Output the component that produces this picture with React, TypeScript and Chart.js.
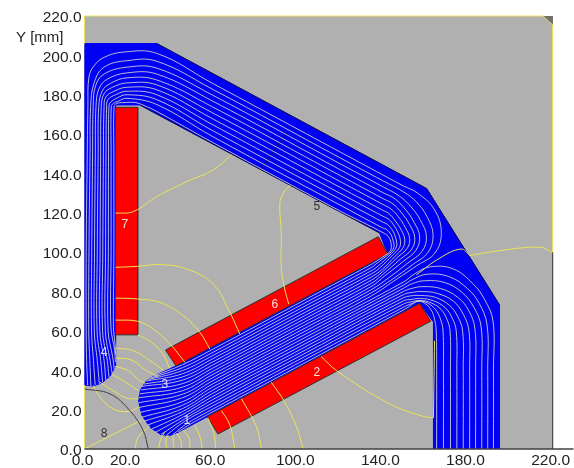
import React, { useEffect, useRef } from "react";
import { Chart, registerables } from "chart.js";

Chart.register(...registerables);

type P = [number, number];

const xTicks = [0, 20, 60, 100, 140, 180, 220];
const yTicks = [0, 20, 40, 60, 80, 100, 120, 140, 160, 180, 200, 220];
const yTitle = "Y [mm]";

const plotArea: P[] = [[0, 0], [220, 0], [220, 220], [0, 220], [0, 0]];
const cornerMark: P[] = [[215.5, 220], [220, 220], [220, 215.5], [215.5, 220]];
const ironShape: P[] = [
  [0, 206], [34, 206], [160.8, 132.3], [195, 73.3], [195, 0], [164, 0], [164, 64.5], [157.5, 74],
  [57.7, 16.4], [44, 8.5], [40, 6.8], [36, 7.3], [31, 10.8], [27, 17], [25.4, 24.5], [26.3, 30], [29, 34.5], [32.5, 37],
  [43, 42.2], [142.5, 99.1], [138.7, 109.8], [26, 174.8], [14.6, 174.8], [14.6, 42], [12, 37], [8, 33.5], [4, 32], [0, 32.5], [0, 206],
];
const outerEdge: P[] = [[34, 206], [160.8, 132.3], [195, 73.3]];
const innerEdge: P[] = [[138.7, 109.8], [26, 174.8]];
const coil2: P[] = [[157.5, 74], [162.7, 64.9], [62.7, 7.6], [57.7, 16.4], [157.5, 74]];
const coil6: P[] = [[38.1, 50.3], [43, 42.2], [142.5, 99.1], [138.1, 107.9], [38.1, 50.3]];
const coil7: P[] = [[14.6, 173.6], [25, 173.6], [25, 58], [14.6, 58], [14.6, 173.6]];

const yokeLines: P[][] = [
  [[1.5, 32.3], [1, 45], [0.8, 60], [0.8, 100], [1.3, 150], [1.6, 174], [2.1, 189], [4.5, 194.7], [9.2, 199], [18.5, 201.7], [34, 201], [60, 185.9], [120, 151], [140, 139.4], [150, 133.6], [156.6, 130], [164.6, 121.4], [167.7, 109.6], [164.6, 99.4], [156.7, 93.5], [147, 86.5]],
  [[3, 32], [2.5, 45], [2, 60], [2.1, 100], [2.6, 150], [2.9, 174], [4.5, 186], [9.2, 194], [20, 197.3], [34, 197], [60, 182.9], [120, 148], [140, 136.4], [150, 130.6], [156, 125.5], [161, 118], [163.8, 109], [161.5, 100], [154, 93.5], [145, 86.5]],
  [[5, 32.5], [4.2, 45], [3.3, 60], [3.4, 100], [3.8, 150], [4.1, 174], [5.2, 184.5], [9.2, 190.5], [20, 194], [34, 193.5], [60, 179.9], [120, 145], [140, 133.4], [148, 128.5], [153.5, 123], [158, 116], [160.7, 108], [158.7, 100.5], [152, 94.5], [143, 87]],
  [[7, 33], [6, 45], [4.6, 60], [4.7, 100], [5.1, 150], [5.4, 174], [6.8, 183], [10.7, 187.9], [20, 191.1], [34, 190.5], [60, 176.9], [120, 142], [140, 130.4], [146, 127], [151, 121.5], [155, 115], [157.5, 108], [155.8, 101], [150, 95.5], [141, 87.8]],
  [[8.5, 34], [7.6, 45], [5.9, 60], [6, 100], [6.4, 150], [6.7, 174], [8.4, 182], [12.3, 185.8], [20, 188.6], [34, 187.5], [60, 173.9], [120, 139], [140, 127.4], [145, 124.5], [149, 120], [152.8, 114], [155.2, 107.5], [153.8, 101.5], [148.5, 96.5], [140, 88.5]],
  [[10, 35], [9.2, 45], [7.2, 60], [7.3, 100], [7.6, 150], [7.9, 174], [9.2, 180.5], [13, 183.7], [20, 186], [34, 185], [60, 170.9], [120, 136], [140, 124.4], [144, 122], [147.5, 118], [150.8, 112.5], [152.8, 107], [151.7, 102], [147, 97.3], [140, 90]],
  [[11.5, 36.5], [10.7, 45], [8.5, 60], [8.6, 100], [8.9, 150], [9.2, 174], [10, 178.8], [13.8, 181.7], [20, 183.8], [34, 182.5], [60, 167.9], [120, 133], [140, 121.4], [143, 119.7], [146, 116], [149, 111], [150.5, 106.5], [149.7, 102.3], [146, 98], [140, 91.3]],
  [[13, 38.5], [12, 45], [9.8, 60], [9.9, 100], [10.1, 150], [10.4, 174], [11, 177.5], [14.6, 180], [20, 181.8], [34, 180], [60, 164.9], [120, 130], [140, 118.4], [143, 116.7], [145.5, 113.5], [147.5, 109.5], [148.5, 105.5], [148, 102.3], [145, 98.7], [139, 92.2]],
  [[14, 40.5], [13.2, 47], [11.1, 60], [11.2, 100], [11.3, 150], [11.5, 174], [12.3, 176.2], [15.4, 178.4], [20, 180], [34, 177.5], [60, 161.9], [120, 127], [140, 115.4], [142.5, 114], [144.8, 111], [146, 108], [146.8, 104.5], [146.3, 102], [144, 99], [138, 93]],
  [[14.5, 44], [14.2, 50], [12.4, 62], [12.5, 100], [12.5, 150], [12.6, 174], [13.5, 175.5], [16, 176.8], [20, 178.2], [34, 175], [60, 158.9], [120, 124], [140, 112.4], [142, 111.5], [144, 109], [145, 106], [145.5, 103.5], [145, 101.5], [143.5, 99.5], [137, 94]],
  [[14.6, 48], [14.3, 54], [13.6, 62], [13.8, 100], [13.8, 150], [13.9, 174], [15, 175.5], [18, 176], [24, 176], [28, 174.5], [34, 171.5], [60, 155.9], [120, 121], [141, 109.5], [143, 107.5], [144, 105], [144.2, 102.5], [143.8, 100.8], [142.5, 99.3], [136, 94.6]],
];

const legLines: P[][] = [
  [[165.5, 0], [165.5, 40], [165.3, 60], [164.5, 66], [163, 70.5], [160, 74], [156.5, 75], [153, 72.7]],
  [[168.7, 0], [168.7, 40], [168.5, 60], [167.3, 66], [165, 70.8], [161.5, 74], [157.5, 75.2], [153.5, 73.8]],
  [[172, 0], [172, 40], [171.8, 60], [170.3, 66], [167.5, 71], [163, 74.2], [158, 75.5], [153.5, 74.8]],
  [[175, 0], [175, 40], [174.7, 60], [172.8, 66.5], [169.5, 71.8], [164, 75.3], [158, 76.5], [153.5, 76]],
  [[178, 0], [178, 40], [177.7, 60], [175.3, 67.5], [171.5, 73], [165, 77], [158, 78], [153.5, 77.8]],
  [[181, 0], [181, 40], [180.7, 60], [178, 68.5], [173.5, 75], [166, 79], [158.5, 80], [153.5, 79.5]],
  [[183.8, 0], [183.8, 40], [183.5, 61], [180.5, 70.5], [175.5, 77], [167.5, 81.5], [159, 82.5], [153.5, 81.5]],
  [[186.7, 0], [186.7, 40], [186.4, 62], [183, 72], [177.5, 79.5], [169.5, 84.5], [160, 85.5], [154, 84]],
  [[189.5, 0], [189.5, 40], [189.2, 63], [185.5, 74], [180, 81.5], [171.5, 87.5], [161, 88.8], [154, 86]],
  [[192.2, 0], [192.2, 40], [192, 65], [188, 76], [182.7, 83.8], [173.3, 91.5], [162.2, 92.5], [155.2, 89]],
];

const poleLines: P[][] = [
  [[150, 70.7], [105, 44.6], [60, 18.7], [50, 12.8], [44, 8.7]],
  [[150, 72.1], [105, 46.2], [60, 20.1], [48, 12.8], [41.5, 7.3]],
  [[150, 73.7], [105, 47.8], [60, 21.7], [47, 14], [38.5, 7]],
  [[150, 75.3], [105, 49.4], [60, 23.3], [47, 15.2], [36, 7.4]],
  [[150, 76.9], [105, 51], [60, 24.9], [46, 16], [33.5, 8.6]],
  [[150, 78.5], [105, 52.6], [60, 26.5], [46, 17.5], [31.5, 10.1]],
  [[150, 80.1], [105, 54.2], [60, 28.1], [46, 19], [29.5, 12.1]],
  [[150, 81.7], [105, 55.8], [60, 29.7], [46, 20.5], [28, 14.1]],
  [[150, 83.3], [105, 57.4], [60, 31.3], [46, 22.2], [26.8, 16.1]],
  [[150, 84.9], [105, 59], [60, 32.9], [46, 24], [26.2, 18.6]],
  [[135, 77.9], [105, 60.6], [60, 34.5], [46, 26], [25.7, 21.1]],
  [[135, 79.5], [105, 62.2], [60, 36.1], [46, 27.8], [25.4, 23.5]],
  [[135, 81.1], [105, 63.8], [60, 37.7], [46, 29.6], [25.5, 26]],
  [[135, 82.7], [105, 65.4], [60, 39.3], [46, 31.4], [25.9, 28]],
  [[135, 84.3], [105, 67], [60, 40.9], [46, 33.2], [26.5, 30]],
  [[135, 85.9], [105, 68.6], [60, 42.5], [46, 35], [27, 31.8]],
  [[135, 87.5], [105, 70.2], [60, 44.1], [46, 36.6], [28, 33]],
  [[135, 89.1], [105, 71.8], [60, 45.7], [46, 38.2], [29, 34.5]],
  [[135, 90.7], [105, 73.4], [60, 47.3], [46, 39.8], [30, 35.3]],
  [[135, 92.3], [105, 75], [60, 48.9], [46, 41.3], [31, 36]],
  [[135, 93.9], [105, 76.6], [60, 50.5], [46, 42.8], [32.5, 37]],
];

const airLines: P[][] = [
  [[14.6, 92.3], [25, 92.8], [35.4, 93.7], [48, 91.5], [60.5, 83.8], [68.3, 69.4], [73, 58.4]],
  [[14.6, 76.7], [25, 76.2], [35.4, 74.5], [46.4, 67.8], [54.2, 59.3], [58.9, 50.8]],
  [[14.6, 65.5], [25, 64.9], [32.3, 61], [40.1, 53.4], [44.8, 47.4], [47.2, 44]],
  [[25, 58], [31.5, 54.2], [37, 48], [40, 41]],
  [[14.6, 51.3], [22.9, 50], [30.8, 44.9], [37, 40.1]],
  [[14.6, 46.2], [22.1, 45.2], [29.2, 39.8], [34.7, 36.8]],
  [[14.3, 42], [20.6, 39.8], [26, 34.7], [28.4, 33.9]],
  [[12.7, 38.1], [18.2, 34.7], [25.4, 29.6]],
  [[7.3, 33.9], [13.5, 29.6], [19.8, 25.9], [25.4, 25.4]],
  [[4.1, 32.2], [7.3, 26.3], [13.5, 20.3], [20.6, 19.1], [25.4, 21.2]],
  [[0, 0], [26.5, 14.5]],
  [[23.7, 0], [25.2, 5.9], [30.8, 11.9]],
  [[34.7, 0], [35.8, 4.9], [37.8, 8.8]],
  [[38.6, 0], [38.3, 4.6], [39.4, 7.1]],
  [[42.2, 0], [41.7, 3.7], [41.7, 6.8]],
  [[45.6, 0], [45.2, 4.6], [43.3, 8]],
  [[49.5, 0], [49.2, 5.4], [46.4, 9.6]],
  [[55.3, 0], [54.5, 5.4], [51.8, 12.2]],
  [[61.7, 0], [60.8, 8], [58.1, 15.6]],
  [[70.7, 0], [68.3, 12.2], [64.4, 19.5]],
  [[83.2, 0], [80.8, 11.4], [73.8, 25.5]],
  [[102.8, 0], [99.6, 11.4], [94, 24], [87.8, 33.9]],
  [[111.2, 47], [118.5, 39.8], [142, 23.7], [157.7, 17], [163.9, 15.8]],
  [[164, 15.8], [164.5, 55]],
  [[14.6, 119.8], [22.9, 120.6], [33.9, 128.2], [48, 135.8], [60.5, 141.8], [69, 149.4]],
  [[96.5, 134], [93.5, 130], [91.8, 124.8], [92.5, 110], [92.5, 92], [94.1, 81.3], [96, 73.6]],
  [[181.1, 98.3], [195.2, 100.8], [214.2, 102.5], [220, 99.8]],
  [[181.1, 98.3], [177, 101.6], [167, 97], [156, 88.5]],
];

const yellowBorder: P[] = [[0, 206], [0, 220], [215.5, 220], [220, 215.5], [220, 99.8]];
const yellowLeft: P[] = [[0, 32.5], [0, 0]];
const darkBorder: P[] = [[220, 99.8], [220, 0]];
const bottomRule: P[] = [[0, 0], [229.8, 0]];
const circleEight: P[] = [[0, 30.5], [12, 28], [21.3, 19.5], [27.6, 9.3], [30, 0]];
const yokeTick: P[] = [[95, 160.6], [82.6, 141.8]];

const regionNames = ["1", "2", "3", "4", "5", "6", "7", "8"];
const regionX = [48.1, 109.2, 37.8, 9.2, 109.2, 89.4, 19, 9.2];
const regionY = [14.4, 38.6, 32.5, 48.8, 123, 73.2, 113.8, 7.9];
const regionColors = ["#e6d8ff", "#ffe0e0", "#e6d8ff", "#e6d8ff", "#303030", "#ffe0e0", "#ffe0e0", "#303030"];

const FONT = "'Liberation Sans', Arial, sans-serif";

const toXY = (pts: P[]) => pts.map(([x, y]) => ({ x, y }));

const line = (pts: P[], color: string, extra: Record<string, unknown> = {}) => ({
  data: toXY(pts),
  borderColor: color,
  borderWidth: 1,
  pointRadius: 0,
  showLine: true,
  tension: 0,
  fill: false,
  ...extra,
});

const poly = (pts: P[], color: string, edge: string) =>
  line(pts, edge, { fill: "shape", backgroundColor: color });

const labelsPlugin = {
  id: "regionLabels",
  afterDatasetsDraw(chart: Chart) {
    const { ctx, scales } = chart;
    ctx.save();
    ctx.textAlign = "center";
    ctx.textBaseline = "middle";
    ctx.font = `12px ${FONT}`;
    regionNames.forEach((t, i) => {
      ctx.fillStyle = regionColors[i];
      ctx.fillText(t, scales.x.getPixelForValue(regionX[i]), scales.y.getPixelForValue(regionY[i]));
    });
    ctx.font = `15px ${FONT}`;
    ctx.fillStyle = "#222";
    ctx.textAlign = "left";
    ctx.fillText(yTitle, 16, 38);
    ctx.restore();
  },
};

export default function App() {
  const ref = useRef<HTMLCanvasElement>(null);
  useEffect(() => {
    if (!ref.current) return;
    const FLUX = "rgba(236,236,200,0.78)";
    const AIR = "#ece45a";
    const curved = { tension: 0.4 };
    const flux = [
      ...yokeLines.map((l, i) => line([...l, ...poleLines[10 + i]], FLUX, curved)),
      ...legLines.map((l, i) => line([...l, ...poleLines[i]], FLUX, curved)),
    ];
    const bottomFirst = [
      poly(plotArea, "#b0b0b0", "#b0b0b0"),
      poly(cornerMark, "#707070", "#707070"),
      poly(ironShape, "#0000f5", "#0000f5"),
      line(outerEdge, "#10104a"),
      line(innerEdge, "#10104a"),
      poly(coil2, "#ff0000", "#303030"),
      poly(coil6, "#ff0000", "#303030"),
      poly(coil7, "#ff0000", "#303030"),
      line(yokeTick, "#101060"),
      ...flux,
      ...airLines.map((l) => line(l, AIR, curved)),
      line(yellowBorder, AIR, { clip: false }),
      line(yellowLeft, AIR, { clip: false }),
      line(darkBorder, "#505050", { clip: false }),
      line(circleEight, "#404040", curved),
      line(bottomRule, "#404040", { clip: false, borderWidth: 1.5 }),
    ];
    const chart = new Chart(ref.current, {
      type: "scatter",
      data: { datasets: bottomFirst.reverse() as any },
      options: {
        animation: false,
        responsive: false,
        layout: { padding: { top: 16, right: 20.5, left: 0, bottom: 0 } },
        plugins: { legend: { display: false }, tooltip: { enabled: false }, title: { display: false } },
        scales: {
          x: {
            type: "linear",
            min: 0,
            max: 220,
            grid: { display: false, drawTicks: false },
            border: { display: false },
            afterBuildTicks: (axis: any) => {
              axis.ticks = xTicks.map((value) => ({ value }));
            },
            afterFit: (axis: any) => {
              axis.height = 19;
            },
            ticks: {
              autoSkip: false,
              maxRotation: 0,
              padding: 2,
              labelOffset: -2,
              color: "#222",
              font: { family: FONT, size: 15.5 },
              callback: (v: any) => Number(v).toFixed(1),
            },
          },
          y: {
            type: "linear",
            min: 0,
            max: 220,
            grid: { display: false, drawTicks: false },
            border: { display: false },
            afterBuildTicks: (axis: any) => {
              axis.ticks = yTicks.map((value) => ({ value }));
            },
            afterFit: (axis: any) => {
              axis.width = 84.5;
            },
            ticks: {
              autoSkip: false,
              padding: 3,
              labelOffset: 2,
              color: "#222",
              font: { family: FONT, size: 15.5 },
              callback: (v: any) => Number(v).toFixed(1),
            },
          },
        },
      },
      plugins: [labelsPlugin as any],
    });
    return () => chart.destroy();
  }, []);
  return (
    <div style={{ position: "fixed", left: 0, top: 0, width: 574, height: 468, background: "#fff" }}>
      <canvas ref={ref} width={574} height={468} style={{ display: "block" }} />
    </div>
  );
}
